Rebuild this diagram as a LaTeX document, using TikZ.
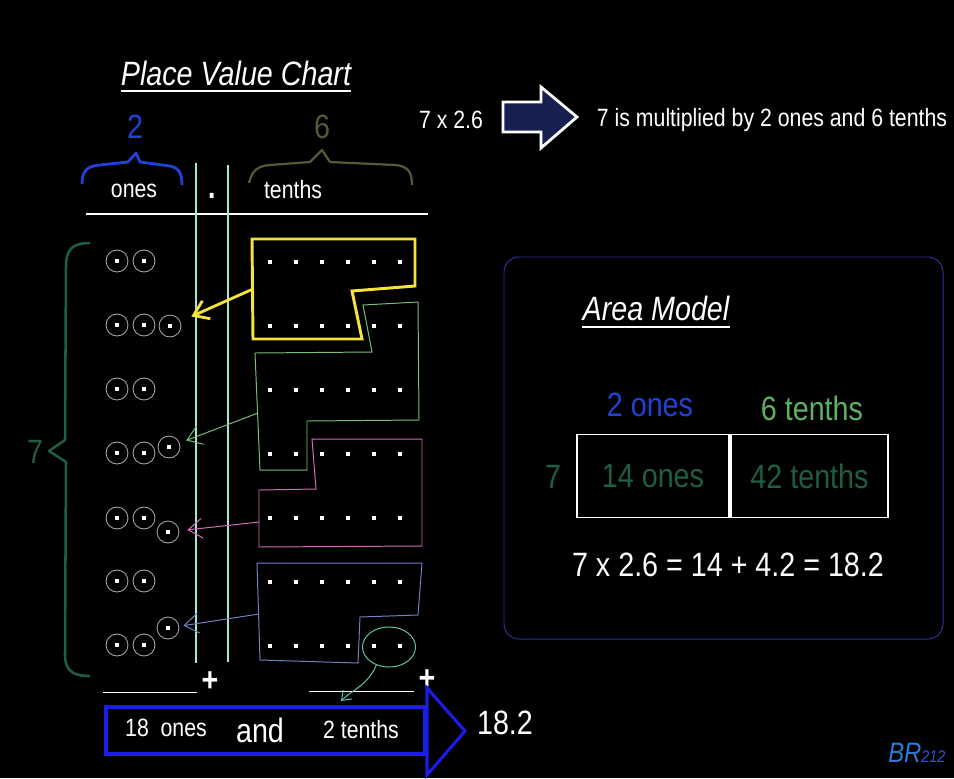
\documentclass[tikz,border=0pt]{standalone}
\usepackage{fontspec}
\setmainfont{Liberation Sans}[FakeStretch=0.85]
\usepackage{tikz}
\usetikzlibrary{arrows.meta,shapes.geometric}
\definecolor{OnesBlue}{HTML}{2042D8}
\definecolor{TenthsOlive}{HTML}{56583A}
\definecolor{SevenGreen}{HTML}{1F5E40}
\definecolor{TenthsGreen}{HTML}{5FB060}
\definecolor{LineAqua}{HTML}{A6E6D6}
\definecolor{CircleGray}{HTML}{A8A8A8}
\definecolor{MarkYellow}{HTML}{F6E23C}
\definecolor{MarkGreen}{HTML}{7CBC7C}
\definecolor{MarkPink}{HTML}{D26FB4}
\definecolor{MarkSlate}{HTML}{7280C4}
\definecolor{MarkTeal}{HTML}{5EC4AE}
\definecolor{SumBlue}{HTML}{1C1CE8}
\definecolor{PanelBlue}{HTML}{2E2E9C}
\definecolor{ArrowNavy}{HTML}{17204F}
\definecolor{SignBlue}{HTML}{2A7AD6}
\definecolor{SignBlueDark}{HTML}{3052DE}

\newcommand\SmallText{\fontsize{17.8}{21}\selectfont}
\newcommand\BigText{\fontsize{24}{28}\selectfont}

\begin{document}
\begin{tikzpicture}[x=0.025cm,y=-0.025cm,
  onecircle/.style={circle,draw=CircleGray,line width=0.6pt,minimum size=15.6pt,inner sep=0pt,
    path picture={\fill[white] ([xshift=-1.5pt,yshift=-1.5pt]path picture bounding box.center) rectangle ++(3pt,3pt);}},
  tenthdot/.style={rectangle,fill=white,minimum size=3pt,inner sep=0pt},
  txt/.style={text=white,font=\SmallText,inner sep=0pt},
  bigtxt/.style={text=white,font=\BigText,inner sep=0pt},
  cellbox/.style={draw=white,line width=0.8pt,minimum height=2.075cm,text=SevenGreen,font=\BigText},
  link/.style={-{Straight Barb[length=10pt,width=14pt]},line width=0.7pt}]

  \fill[black] (0,0) rectangle (954,778);

  % place value chart
  \node[bigtxt,font=\BigText\itshape] (pvc) at (236,73) {Place Value Chart};
  \draw[white,line width=1.5pt] ([yshift=-4.5pt]pvc.base west) -- ([yshift=-4.5pt]pvc.base east);

  \node[bigtxt,text=OnesBlue] (dig2) at (135,127) {2};
  \node[bigtxt,text=TenthsOlive] (dig6) at (322,127) {6};
  \draw[OnesBlue,line width=2pt,line join=round] (82,184) .. controls (82,170) and (88,166) .. (100,165)
    -- (128,162) -- (136,153) -- (140,162) -- (170,166) .. controls (180,168) and (182,175) .. (182,185);
  \draw[TenthsOlive,line width=1.6pt,line join=round] (249,183) .. controls (252,170) and (258,166) .. (270,165)
    -- (310,162) -- (322,150) -- (330,162) -- (395,165) .. controls (408,166) and (412,172) .. (412,185);

  \node[txt] (ones) at (134,191) {ones};
  \node[bigtxt,font=\fontsize{34}{38}\selectfont] (point) at (212,196) {.};
  \node[txt] (tenths) at (293,190) {tenths};
  \draw[white,line width=2pt] (86,214) -- (428,214);
  \draw[LineAqua,line width=0.9pt] (196,163) -- (196,663) (228,165) -- (228,662);

  \draw[SevenGreen,line width=1.8pt,line join=round] (90,243) .. controls (72,243) and (66,250) .. (66,266)
    -- (65,440) -- (49,451) -- (66,462) -- (65,655) .. controls (65,670) and (72,676) .. (90,676);
  \node[bigtxt,text=SevenGreen] (seven) at (35,452) {7};

  \foreach \r/\y in {1/261,2/325,3/389,4/453,5/518,6/581,7/645} {
    \node[onecircle] (o-\r-1) at (117,\y) {};
    \node[onecircle] (o-\r-2) at (144,\y) {};
  }
  \node[onecircle] (o-2-3) at (170,326) {};
  \node[onecircle] (o-4-3) at (169,447) {};
  \node[onecircle] (o-5-3) at (168,532) {};
  \node[onecircle] (o-7-3) at (168,628) {};

  \foreach \r/\y in {1/262,2/326,3/390,4/454,5/518,6/582,7/646}
    \foreach \c/\x in {1/270,2/296,3/322,4/348,5/374,6/400}
      \node[tenthdot] (t-\r-\c) at (\x,\y) {};

  % groups of ten tenths
  \draw[MarkYellow,line width=2.1pt] (252,239) -- (415,239) -- (415,286) -- (352,291) -- (362,339) -- (253,339) -- cycle;
  \draw[MarkGreen,line width=0.7pt] (363,305) -- (418,302) -- (419,420) -- (307,421) -- (307,470) -- (260,470) -- (255,353) -- (372,352) -- cycle;
  \draw[MarkPink,line width=0.7pt] (312,439) -- (422,439) -- (422,546) -- (259,547) -- (259,490) -- (316,489) -- cycle;
  \draw[MarkSlate,line width=0.7pt] (257,563) -- (422,563) -- (418,615) -- (360,617) -- (358,663) -- (260,660) -- cycle;
  \node[ellipse,draw=MarkTeal,line width=0.7pt,minimum width=37.7pt,minimum height=28.5pt] (left2) at (389,647) {};

  \coordinate (gyellow) at (253,289);
  \coordinate (ggreen) at (258,413);
  \coordinate (gpink) at (259,522);
  \coordinate (gslate) at (259,614);
  \draw[link,MarkYellow,line width=2pt,shorten >=8.5pt] (gyellow) -- (o-2-3);
  \draw[link,MarkGreen,shorten >=5pt] (ggreen) -- (o-4-3);
  \draw[link,MarkPink,shorten >=5.7pt] (gpink) -- (o-5-3);
  \draw[link,MarkSlate,shorten >=3pt] (gslate) -- (o-7-3);

  % sum
  \draw[white,line width=0.7pt] (103,692) -- (197,692) (309,691) -- (414,691);
  \node[bigtxt,font=\BigText\bfseries] (plusA) at (210,682) {+};
  \node[bigtxt,font=\BigText\bfseries] (plusB) at (427,680) {+};
  \coordinate (sumtenths) at (341,701);
  \draw[MarkTeal,line width=0.7pt,-{Straight Barb[length=6pt,width=9pt]}] (left2.235) .. controls (368,685) and (352,690) .. (sumtenths);

  \draw[SumBlue,line width=2.2pt] (106,707) rectangle (425,754);
  \draw[SumBlue,line width=2.2pt] (427,688) -- (465,731) -- (427,775) -- cycle;
  \node[txt] (sumones) at (166,728) {18\ \ ones};
  \node[bigtxt] (sumand) at (260,730) {and};
  \node[txt] (sumtenth) at (361,730) {2 tenths};
  \node[bigtxt] (result) at (505,723) {18.2};

  % top line
  \node[txt] (task) at (451,120) {7 x 2.6};
  \draw[white,line width=2pt,fill=ArrowNavy] (503,102) -- (541,102) -- (541,87) -- (577,117) -- (541,148) -- (541,132) -- (503,132) -- cycle;
  \node[txt] (meaning) at (772,120) {7 is multiplied by 2 ones and 6 tenths};

  % area model
  \draw[PanelBlue,line width=0.7pt,rounded corners=10.7pt] (504,257) rectangle (943,639);
  \node[bigtxt,font=\BigText\itshape] (am) at (656,308) {Area Model};
  \draw[white,line width=1.5pt] ([yshift=-4.7pt]am.base west) -- ([yshift=-4.7pt]am.base east);
  \node[bigtxt,text=OnesBlue] (headones) at (650,405) {2 ones};
  \node[bigtxt,text=TenthsGreen] (headtenths) at (812,408) {6 tenths};
  \node[cellbox,minimum width=3.8cm] (cellones) at (653,476) {14 ones};
  \node[cellbox,minimum width=3.925cm] (celltenths) at (809.5,476) {42 tenths};
  \node[bigtxt,text=SevenGreen] (factor) at (553,477) {7};
  \node[bigtxt] (equation) at (728,565) {7 x 2.6 = 14 + 4.2 = 18.2};

  \node[anchor=base west,inner sep=0pt,text=SignBlue,font=\fontsize{20}{24}\selectfont\itshape] (brand) at (888,762) {BR\textcolor{SignBlueDark}{\fontsize{12}{14}\selectfont 212}};
\end{tikzpicture}
\end{document}
